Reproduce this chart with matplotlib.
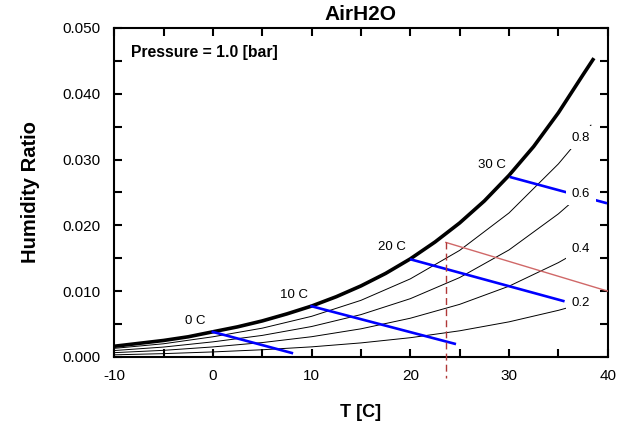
import matplotlib
matplotlib.use("agg")
import matplotlib.pyplot as plt
from matplotlib.ticker import MultipleLocator

plt.rcParams['font.family'] = ['Liberation Sans', 'DejaVu Sans']
plt.rcParams['axes.unicode_minus'] = False

# saturation curve
t_sat = [-10, -7.5, -5, -2.5, 0, 2.5, 5, 7.5, 10, 12.5, 15, 17.5, 20, 22.5,
         25, 27.5, 30, 32.5, 35, 37.5, 38.5]
w_sat = [0.00162, 0.00206, 0.00250, 0.00306, 0.00382, 0.00457, 0.00547, 0.00654,
         0.00773, 0.00915, 0.01079, 0.01269, 0.01490, 0.01746, 0.02036, 0.02370,
         0.02759, 0.03198, 0.03710, 0.04289, 0.04517]

# relative humidity lines
t_rh = [-10, -5, 0, 5, 10, 15, 20, 25, 30, 35, 38.3]
rh_lines = {
    '0.8': [0.00130, 0.00200, 0.00306, 0.00437, 0.00617, 0.00860, 0.01186, 0.01619, 0.02188, 0.02933, 0.03522],
    '0.6': [0.00097, 0.00150, 0.00229, 0.00327, 0.00462, 0.00643, 0.00885, 0.01206, 0.01626, 0.02174, 0.02605],
    '0.4': [0.00065, 0.00100, 0.00152, 0.00218, 0.00307, 0.00427, 0.00588, 0.00799, 0.01075, 0.01433, 0.01713],
    '0.2': [0.00032, 0.00050, 0.00076, 0.00109, 0.00153, 0.00213, 0.00292, 0.00397, 0.00533, 0.00708, 0.00845],
}
rh_label_pos = {'0.8': (37.3, 0.0333), '0.6': (37.3, 0.0248),
                '0.4': (37.3, 0.0164), '0.2': (37.3, 0.0082)}

# wet bulb lines
wb_names = ['0 C', '10 C', '20 C', '30 C']
wb_t = [[0, 8.0], [10, 24.5], [20.1, 35.5], [30.2, 39.8]]
wb_w = [[0.0038, 0.0006], [0.0077, 0.0020], [0.0148, 0.0085], [0.0273, 0.0234]]
wb_label_pos = [(-1.8, 0.00545), (8.2, 0.0094), (18.1, 0.0167), (28.3, 0.0291)]

# state point line
state_t = [23.6, 40]
state_w = [0.0174, 0.0100]

fig = plt.figure(figsize=(6.17, 4.29), dpi=100)
ax = fig.add_axes([0.185, 0.168, 0.800, 0.767])

ax.plot(t_sat, w_sat, color='black', lw=2.6, zorder=4)
for name, w in rh_lines.items():
    ax.plot(t_rh, w, color='black', lw=0.7, zorder=3)
    x, y = rh_label_pos[name]
    ax.text(x, y, name, fontsize=9.5, ha='center', va='center', zorder=6,
            bbox=dict(facecolor='white', edgecolor='none', pad=4))

for name, t, w, pos in zip(wb_names, wb_t, wb_w, wb_label_pos):
    ax.plot(t, w, color='#0000ff', lw=1.9, zorder=5)
    ax.text(pos[0], pos[1], name, fontsize=9.5, ha='center', va='center')

ax.plot(state_t, state_w, color='#d06868', lw=1.0, zorder=5)
ax.plot([state_t[0], state_t[0]], [state_w[0], -0.0032], color='#b03838',
        lw=1.0, ls=(0, (5, 3)), clip_on=False, zorder=5)

ax.set_xlim(-10, 40)
ax.set_ylim(0, 0.050)
ax.xaxis.set_major_locator(MultipleLocator(10))
ax.xaxis.set_minor_locator(MultipleLocator(5))
ax.yaxis.set_major_locator(MultipleLocator(0.010))
ax.yaxis.set_minor_locator(MultipleLocator(0.005))
ax.yaxis.set_major_formatter(plt.FormatStrFormatter('%.3f'))
ax.tick_params(which='both', direction='in', top=True, right=True,
               length=6, width=1.5, labelsize=11)
ax.tick_params(axis='x', pad=9)
ax.tick_params(axis='y', pad=10)
for s in ax.spines.values():
    s.set_linewidth(1.5)

ax.set_title('AirH2O', fontsize=15, fontweight='bold', pad=6)
ax.set_xlabel('T [C]', fontsize=13, fontweight='bold', labelpad=15)
ax.set_ylabel('Humidity Ratio', fontsize=14.5, fontweight='bold', labelpad=16)
ax.text(0.035, 0.925, 'Pressure = 1.0 [bar]', transform=ax.transAxes,
        fontsize=11.3, fontweight='bold', va='center')

plt.savefig('out.png', dpi=100)
